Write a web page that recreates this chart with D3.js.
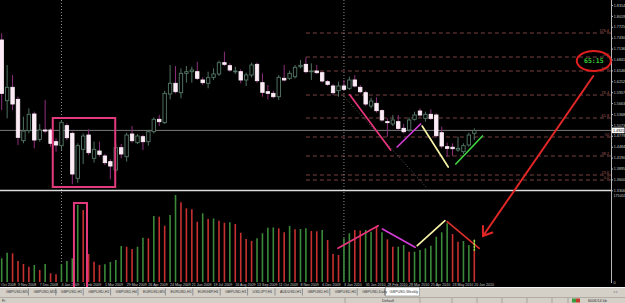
<!DOCTYPE html>
<html>
<head>
<meta charset="utf-8">
<script src="https://cdn.jsdelivr.net/npm/d3@7"></script>
<style>
  html, body { margin: 0; padding: 0; background: #d4d0c8; overflow: hidden; }
  svg { display: block; font-family: "Liberation Sans", Arial, sans-serif; }
</style>
</head>
<body>
<div id="chart"></div>
<script>
// GBPUSD weekly, Oct 2008 - Jun 2010
var weeks = [
  "2008-10-12","2008-10-19","2008-10-26","2008-11-02","2008-11-09","2008-11-16","2008-11-23","2008-11-30","2008-12-07","2008-12-14",
  "2008-12-21","2008-12-28","2009-01-04","2009-01-11","2009-01-18","2009-01-25","2009-02-01","2009-02-08","2009-02-15","2009-02-22",
  "2009-03-01","2009-03-08","2009-03-15","2009-03-22","2009-03-29","2009-04-05","2009-04-12","2009-04-19","2009-04-26","2009-05-03",
  "2009-05-10","2009-05-17","2009-05-24","2009-05-31","2009-06-07","2009-06-14","2009-06-21","2009-06-28","2009-07-05","2009-07-12",
  "2009-07-19","2009-07-26","2009-08-02","2009-08-09","2009-08-16","2009-08-23","2009-08-30","2009-09-06","2009-09-13","2009-09-20",
  "2009-09-27","2009-10-04","2009-10-11","2009-10-18","2009-10-25","2009-11-01","2009-11-08","2009-11-15","2009-11-22","2009-11-29",
  "2009-12-06","2009-12-13","2009-12-20","2009-12-27","2010-01-03","2010-01-10","2010-01-17","2010-01-24","2010-01-31","2010-02-07",
  "2010-02-14","2010-02-21","2010-02-28","2010-03-07","2010-03-14","2010-03-21","2010-03-28","2010-04-04","2010-04-11","2010-04-18",
  "2010-04-25","2010-05-02","2010-05-09","2010-05-16","2010-05-23","2010-05-30","2010-06-06","2010-06-13","2010-06-20"
];
var openP = [
  1.7190,1.7368,1.5728,1.6089,1.5764,1.4647,1.4917,1.5368,1.4683,1.4935,
  1.4935,1.4620,1.4512,1.5053,1.4845,1.3629,1.4413,1.4800,1.4170,1.4368,
  1.4233,1.4080,1.3854,1.4458,1.4215,1.4827,1.4593,1.4755,1.4620,1.4890,
  1.5224,1.5134,1.5908,1.6197,1.5944,1.6467,1.6512,1.6512,1.6287,1.6197,
  1.6359,1.6449,1.6755,1.6674,1.6512,1.6512,1.6287,1.6422,1.6710,1.6215,
  1.5971,1.5926,1.5836,1.6332,1.6332,1.6377,1.6647,1.6710,1.6512,1.6530,
  1.6485,1.6242,1.6125,1.5998,1.6125,1.6062,1.6287,1.6089,1.5944,1.5584,
  1.5656,1.5458,1.5161,1.5098,1.5161,1.4980,1.4935,1.5224,1.5449,1.5251,
  1.5359,1.5341,1.4863,1.4485,1.4470,1.4395,1.4350,1.4530,1.4845
];
var highP = [
  1.7750,1.7548,1.6692,1.6422,1.5836,1.5296,1.5521,1.5431,1.5098,1.5746,
  1.4980,1.4710,1.5206,1.5116,1.4890,1.4575,1.4845,1.4953,1.4620,1.4620,
  1.4287,1.4143,1.4575,1.4557,1.4863,1.5044,1.4827,1.4800,1.4935,1.5278,
  1.5341,1.5998,1.6692,1.6665,1.6602,1.6665,1.6647,1.6782,1.6359,1.6512,
  1.6602,1.6809,1.7053,1.6737,1.6647,1.6575,1.6485,1.6755,1.6755,1.6467,
  1.6152,1.5998,1.6422,1.6692,1.6539,1.6692,1.6827,1.6899,1.6737,1.6692,
  1.6521,1.6287,1.6179,1.6242,1.6287,1.6377,1.6422,1.6152,1.5998,1.5809,
  1.5818,1.5494,1.5251,1.5341,1.5341,1.5098,1.5278,1.5431,1.5521,1.5431,
  1.5494,1.5386,1.5026,1.4593,1.4575,1.4755,1.4575,1.4863,1.4980
];
var lowP = [
  1.6920,1.5476,1.5251,1.5476,1.4530,1.4575,1.4845,1.4440,1.4620,1.4845,
  1.4485,1.4350,1.4395,1.4665,1.3467,1.3512,1.4017,1.4260,1.4053,1.4215,
  1.3989,1.3602,1.3809,1.4170,1.4080,1.4593,1.4557,1.4395,1.4512,1.4845,
  1.5044,1.5098,1.5764,1.5926,1.5791,1.6215,1.6215,1.6287,1.6152,1.6062,
  1.6287,1.6395,1.6665,1.6512,1.6449,1.6197,1.6125,1.6359,1.6215,1.5836,
  1.5764,1.5791,1.5746,1.6242,1.6287,1.6323,1.6602,1.6467,1.6287,1.6449,
  1.6215,1.6125,1.5881,1.5836,1.5998,1.6017,1.6089,1.5926,1.5584,1.5521,
  1.5404,1.5161,1.4755,1.5044,1.4935,1.4845,1.4890,1.5188,1.5296,1.5161,
  1.5206,1.4737,1.4440,1.4215,1.4230,1.4350,1.4287,1.4485,1.4665
];
var closeP = [
  1.7368,1.5926,1.6089,1.5638,1.4737,1.4908,1.5359,1.4665,1.4935,1.4908,
  1.4575,1.4530,1.5143,1.4728,1.3746,1.4512,1.4773,1.4323,1.4413,1.4278,
  1.4053,1.3962,1.4458,1.4287,1.4800,1.4647,1.4773,1.4620,1.4890,1.5224,
  1.5161,1.5926,1.6197,1.5971,1.6467,1.6512,1.6557,1.6332,1.6215,1.6350,
  1.6449,1.6755,1.6710,1.6557,1.6530,1.6287,1.6422,1.6692,1.6269,1.5953,
  1.5926,1.5836,1.6359,1.6287,1.6467,1.6629,1.6683,1.6512,1.6530,1.6485,
  1.6260,1.6170,1.5944,1.6125,1.6035,1.6287,1.6125,1.5971,1.5638,1.5719,
  1.5458,1.5206,1.5134,1.5206,1.4980,1.4890,1.5206,1.5341,1.5341,1.5359,
  1.5251,1.4782,1.4503,1.4440,1.4431,1.4440,1.4512,1.4800,1.4925
];
var volume = [
  52000,47700,59000,57800,42300,36200,30800,34200,24100,36200,
  17500,15500,35600,42300,47700,154900,144800,56300,40900,34200,
  35600,40200,44300,72400,71000,66400,71000,89100,87900,132800,
  131400,113300,134800,175053,160300,148300,146300,121300,138200,126800,
  127800,123300,119300,120100,116700,99200,86500,82500,87900,98000,
  109300,109800,108000,100000,112700,106000,106600,108000,102600,102000,
  104600,84500,56300,54300,87900,98000,104600,103300,104600,101300,
  111300,100000,85900,71000,71000,74400,61000,61000,64400,67800,
  73000,91100,100000,118100,96600,81100,82500,74400,64400
];
// g = volume up bar, r = volume down bar
var volDir = ("g" + "ggrrrrgrgr" + "rggggrrrrg" + "gggrrggrgr" + "rggrrrrgrg" +
  "rrgrrrrggg" + "grrgrggrrg" + "rrrggrrggr" + "grrggrgggg" + "gggrrggr").split("");

var priceTicks = [1.8314,1.8019,1.7725,1.7430,1.7136,1.6841,1.6546,1.6252,1.5957,
  1.5663,1.5368,1.5073,1.4779,1.4484,1.4190,1.3895,1.3600,1.3306];
var volTicks = [175053, 0];
var currentPrice = 1.4925;
var yearStarts = ["2009-01-04", "2010-01-03"];

// fibonacci levels drawn from the Nov 2009 high
var fibFrom = "2009-11-15";
var fibPrices = [1.7557,1.6908,1.6530,1.5881,1.5260,1.4746,1.4233,1.3719,1.3584];
var fibLabels = ["176.4","100","88.6","76.4","61.8","50","38.2","23.6","0.0"];

// hand-drawn annotations: [week index, price] / [week index, volume]
var priceTrends = [
  [[65.1, 1.5881], [72.6, 1.4395]],
  [[73.8, 1.4476], [78.1, 1.5098]],
  [[78.4, 1.5044], [83.2, 1.3935]],
  [[84.6, 1.4017], [89.5, 1.4773]]
];
var volTrends = [
  [[62.9, 67800], [70.3, 113300]],
  [[71.1, 106600], [77.1, 69800]],
  [[77.5, 73000], [82.6, 123300]],
  [[83.0, 121300], [88.9, 67800]]
];
var channelLine = [[63.8, 1.5881], [79.3, 1.3368]];
var boxPrice = [[10.4, 1.5260], [21.9, 1.3395]];
var boxVolume = [[14.3, 158900], [16.7, -18100]];
var timerAt = [110.0, 1.6800];
var timerText = "65:15";
var arrowFrom = [109.9, 1.6395];
var arrowTo = [89.6, 92600];

var tabNames = ["GBPUSD,M5","GBPUSD,M15","GBPUSD,H1","GBPUSD,H1","GBPUSD,H4","EURUSD,M5",
  "EURUSD,H1","EURGBP,H1","GBPUSD,H1","USDJPY,H1","AUDUSD,H1","GBPUSD,H1","GBPUSD,H1",
  "GBPUSD,Daily","GBPUSD,Weekly"];

var W = 625, H = 303, axisX = 611;
var parse = d3.timeParse("%Y-%m-%d"), fmt = d3.timeFormat("%-d %b %Y");

var svg = d3.select("#chart").append("svg").attr("width", W).attr("height", H);

var x = d3.scaleLinear().domain([0, weeks.length - 1]).range([-3.73, 474.3]);
var y = d3.scaleLinear().domain([1.3314, 1.8449]).range([190, 0]);
var yv = d3.scaleLinear().domain([0, 175053]).range([282, 195]);

svg.append("rect").attr("width", W).attr("height", 287).attr("fill", "#000");
svg.append("clipPath").attr("id", "pricePane")
  .append("rect").attr("width", axisX).attr("height", 190);

/* fibonacci levels */
var fx = x(weeks.indexOf(fibFrom));
var fib = svg.append("g");
fib.selectAll("line").data(fibPrices).enter().append("line")
  .attr("x1", fx).attr("x2", axisX)
  .attr("y1", function(d) { return y(d); }).attr("y2", function(d) { return y(d); })
  .attr("stroke", "#7a4343").attr("stroke-dasharray", "4,3");
fib.selectAll("text").data(fibPrices).enter().append("text")
  .attr("x", axisX - 2).attr("y", function(d) { return y(d) - 1; })
  .attr("text-anchor", "end").attr("font-size", "3.8px").attr("fill", "#a45c5c")
  .text(function(d, i) { return fibLabels[i]; });

/* year separators */
svg.append("g").selectAll("line").data(yearStarts).enter().append("line")
  .attr("x1", function(d) { return x(weeks.indexOf(d)); })
  .attr("x2", function(d) { return x(weeks.indexOf(d)); })
  .attr("y1", 0).attr("y2", 282)
  .attr("stroke", "#8c8c8c").attr("stroke-dasharray", "1,2");

/* current price line */
svg.append("line").attr("x1", 0).attr("x2", axisX)
  .attr("y1", y(currentPrice)).attr("y2", y(currentPrice))
  .attr("stroke", "#7c7c7c");

svg.append("line")
  .attr("x1", x(channelLine[0][0])).attr("y1", y(channelLine[0][1]))
  .attr("x2", x(channelLine[1][0])).attr("y2", y(channelLine[1][1]))
  .attr("stroke", "#5a5a5a").attr("stroke-dasharray", "1,2");

/* candles */
var candles = weeks.map(function(w, i) {
  return { i: i, o: openP[i], h: highP[i], l: lowP[i], c: closeP[i] };
});
var cg = svg.append("g").attr("clip-path", "url(#pricePane)");
cg.selectAll("line").data(candles).enter().append("line")
  .attr("x1", function(d) { return x(d.i); }).attr("x2", function(d) { return x(d.i); })
  .attr("y1", function(d) { return y(d.h); }).attr("y2", function(d) { return y(d.l); })
  .attr("stroke", function(d) { return d.c >= d.o ? "#4e7262" : "#8e2f7c"; })
  .attr("stroke-width", 1);
cg.selectAll("rect").data(candles).enter().append("rect")
  .attr("x", function(d) { return x(d.i) - 1.7; })
  .attr("width", 3.4)
  .attr("y", function(d) { return y(Math.max(d.o, d.c)); })
  .attr("height", function(d) { return Math.max(0.8, Math.abs(y(d.o) - y(d.c))); })
  .attr("fill", function(d) { return d.c >= d.o ? "#000" : "#fcecf6"; })
  .attr("stroke", function(d) { return d.c >= d.o ? "#557a68" : "#fcecf6"; })
  .attr("stroke-width", 0.9);

/* pane separator */
svg.append("line").attr("x1", 0).attr("x2", axisX).attr("y1", 190.5).attr("y2", 190.5)
  .attr("stroke", "#dcdcdc").attr("stroke-width", 1.3);

/* volumes */
svg.append("g").selectAll("line").data(volume).enter().append("line")
  .attr("x1", function(d, i) { return x(i); }).attr("x2", function(d, i) { return x(i); })
  .attr("y1", yv(0)).attr("y2", function(d) { return yv(d); })
  .attr("stroke", function(d, i) { return volDir[i] === "g" ? "#3a8a3a" : "#c83030"; })
  .attr("stroke-width", 1.6);

/* axes */
svg.append("line").attr("x1", axisX + 0.5).attr("x2", axisX + 0.5).attr("y1", 0).attr("y2", 283)
  .attr("stroke", "#b8b8b8");
function styleAxis(g) {
  g.select(".domain").remove();
  g.attr("font-family", null).attr("font-size", null);
  g.selectAll("line").attr("stroke", "#b8b8b8");
  g.selectAll("text").attr("fill", "#cfcfcf").attr("font-size", "3.7px");
}
svg.append("g").attr("transform", "translate(" + (axisX + 0.5) + ",0)")
  .call(d3.axisRight(y).tickValues(priceTicks).tickSize(1.5).tickPadding(0.8).tickFormat(d3.format(".4f")))
  .call(styleAxis);
svg.append("g").attr("transform", "translate(" + (axisX + 0.5) + ",0)")
  .call(d3.axisRight(yv).tickValues(volTicks).tickSize(0).tickPadding(2).tickFormat(d3.format("d")))
  .call(styleAxis);

var cp = svg.append("g").attr("transform", "translate(" + (axisX + 1) + "," + y(currentPrice) + ")");
cp.append("rect").attr("x", 0).attr("y", -2.8).attr("width", 12.5).attr("height", 5.6).attr("fill", "#fff");
cp.append("text").attr("x", 1).attr("y", 1.4).attr("font-size", "3.7px").attr("fill", "#000")
  .text(d3.format(".4f")(currentPrice));

/* time labels */
var labelIdx = d3.range(0, weeks.length, 4);
svg.append("g").selectAll("text").data(labelIdx).enter().append("text")
  .attr("x", function(d) { return x(d); }).attr("y", 286.2)
  .attr("font-size", "3.6px").attr("fill", "#c4c4c4")
  .text(function(d) { return fmt(parse(weeks[d])); });

/* annotations */
var ann = svg.append("g").attr("fill", "none").attr("stroke-linecap", "round");
var trendColors = ["#e8357d", "#d33cd6", "#f7f3a6", "#3fd23f"];
var volColors = ["#e8357d", "#d33cd6", "#f7f3a6", "#d8302a"];
ann.selectAll("line.pt").data(priceTrends).enter().append("line")
  .attr("x1", function(d) { return x(d[0][0]); }).attr("y1", function(d) { return y(d[0][1]); })
  .attr("x2", function(d) { return x(d[1][0]); }).attr("y2", function(d) { return y(d[1][1]); })
  .attr("stroke", function(d, i) { return trendColors[i]; }).attr("stroke-width", 1.7);
ann.selectAll("line.vt").data(volTrends).enter().append("line")
  .attr("x1", function(d) { return x(d[0][0]); }).attr("y1", function(d) { return yv(d[0][1]); })
  .attr("x2", function(d) { return x(d[1][0]); }).attr("y2", function(d) { return yv(d[1][1]); })
  .attr("stroke", function(d, i) { return volColors[i]; }).attr("stroke-width", 1.7);

ann.append("line")
  .attr("x1", x(88)).attr("x2", x(88)).attr("y1", yv(84000)).attr("y2", yv(64000))
  .attr("stroke", "#9be04a").attr("stroke-width", 1.6).attr("stroke-dasharray", "1.5,1.5");

ann.append("rect")
  .attr("x", x(boxPrice[0][0])).attr("y", y(boxPrice[0][1]))
  .attr("width", x(boxPrice[1][0]) - x(boxPrice[0][0]))
  .attr("height", y(boxPrice[1][1]) - y(boxPrice[0][1]))
  .attr("stroke", "#e23a7c").attr("stroke-width", 2);
ann.append("rect")
  .attr("x", x(boxVolume[0][0])).attr("y", yv(boxVolume[0][1]))
  .attr("width", x(boxVolume[1][0]) - x(boxVolume[0][0]))
  .attr("height", yv(boxVolume[1][1]) - yv(boxVolume[0][1]))
  .attr("stroke", "#e23a7c").attr("stroke-width", 2);

/* arrow from the timer down to the volume divergence */
var ax1 = x(arrowFrom[0]), ay1 = y(arrowFrom[1]), ax2 = x(arrowTo[0]), ay2 = yv(arrowTo[1]);
var back = Math.atan2(ay1 - ay2, ax1 - ax2);
ann.append("path")
  .attr("d", "M" + ax1 + "," + ay1 + "L" + ax2 + "," + ay2 +
    "M" + (ax2 + 10 * Math.cos(back + 0.61)) + "," + (ay2 + 10 * Math.sin(back + 0.61)) +
    "L" + ax2 + "," + ay2 +
    "L" + (ax2 + 10 * Math.cos(back - 0.61)) + "," + (ay2 + 10 * Math.sin(back - 0.61)))
  .attr("stroke", "#e02626").attr("stroke-width", 2);

ann.append("ellipse")
  .attr("cx", x(timerAt[0])).attr("cy", y(timerAt[1]))
  .attr("rx", 17).attr("ry", 10)
  .attr("stroke", "#e01e1e").attr("stroke-width", 2);
svg.append("text")
  .attr("x", x(timerAt[0])).attr("y", y(timerAt[1]) + 2.3)
  .attr("text-anchor", "middle").attr("font-size", "6.5px").attr("font-weight", "bold")
  .attr("fill", "#35c935").attr("font-family", "DejaVu Sans Mono, monospace")
  .text(timerText);

/* tabs */
var bar = svg.append("g");
bar.append("rect").attr("y", 287).attr("width", W).attr("height", 16).attr("fill", "#d4d0c8");
bar.append("line").attr("x1", 0).attr("x2", W).attr("y1", 287.5).attr("y2", 287.5).attr("stroke", "#f4f4f4");
var tabX = function(i) { return 2 + i * 27.4; };
bar.selectAll("line.sep").data(tabNames.slice(0, -1)).enter().append("line")
  .attr("x1", function(d, i) { return tabX(i + 1) - 1; }).attr("x2", function(d, i) { return tabX(i + 1) - 1; })
  .attr("y1", 288.5).attr("y2", 295.5).attr("stroke", "#8e8e8e");
bar.append("rect").attr("x", tabX(tabNames.length - 1)).attr("y", 287)
  .attr("width", 34).attr("height", 9).attr("fill", "#fff").attr("stroke", "#808080").attr("stroke-width", 0.6);
bar.selectAll("text.tab").data(tabNames).enter().append("text")
  .attr("x", function(d, i) { return tabX(i) + 4; }).attr("y", 293.2)
  .attr("font-size", "3.7px").attr("fill", "#333")
  .text(function(d) { return d; });
bar.append("text").attr("x", 613).attr("y", 293.2).attr("font-size", "3.7px").attr("fill", "#999").text("\u25C2 \u25B8");

/* status bar */
bar.append("line").attr("x1", 0).attr("x2", W).attr("y1", 297.5).attr("y2", 297.5).attr("stroke", "#b0aca4");
[345, 420, 452, 477, 502, 527, 552, 568].forEach(function(sx) {
  bar.append("line").attr("x1", sx).attr("x2", sx).attr("y1", 298).attr("y2", 303).attr("stroke", "#a8a49c");
});
bar.append("text").attr("x", 2).attr("y", 301.8).attr("font-size", "3.8px").attr("fill", "#333").text("Fi");
bar.append("text").attr("x", 382).attr("y", 301.8).attr("font-size", "3.8px").attr("fill", "#333").text("Default");
bar.append("rect").attr("x", 572).attr("y", 298.5).attr("width", 4).attr("height", 4).attr("fill", "#3d9a3d");
bar.append("rect").attr("x", 576).attr("y", 298.5).attr("width", 4).attr("height", 4).attr("fill", "#c43a2a");
bar.append("text").attr("x", 588).attr("y", 301.8).attr("font-size", "3.8px").attr("fill", "#333").text("6006/14 kb");
</script>
</body>
</html>
